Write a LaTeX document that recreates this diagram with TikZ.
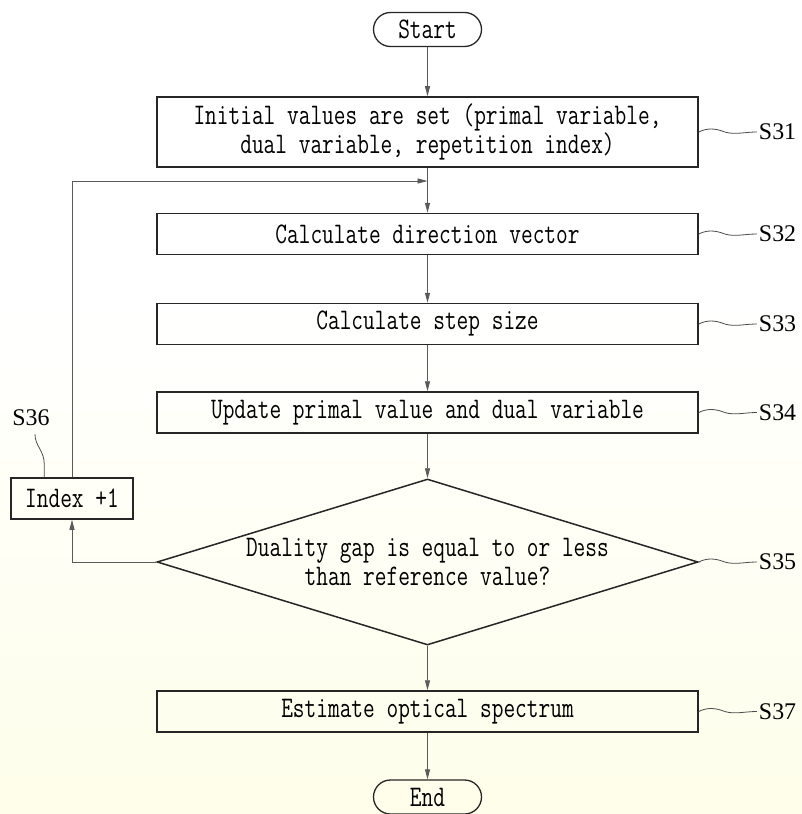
\documentclass[tikz,border=0pt]{standalone}
\usepackage{fontspec}
\usetikzlibrary{shapes.geometric,arrows.meta,calc}
\newfontfamily\boxfont[FakeStretch=0.76]{Latin Modern Mono}
\newfontfamily\labfont{Liberation Serif}
\definecolor{bgyellow}{RGB}{254,254,234}
\definecolor{edgegray}{RGB}{90,90,90}
\tikzset{
  stepbox/.style={draw=black!85, line width=1.5bp, minimum width=541bp, minimum height=41bp,
    inner sep=0pt, align=center, font=\boxfont\fontsize{30}{28.5}\selectfont},
  termbox/.style={stepbox, minimum width=108bp, minimum height=34bp, rounded corners=17bp, line width=1.3bp},
  decision/.style={stepbox, diamond, aspect=3.3, minimum width=541bp, minimum height=166bp},
  steplabel/.style={font=\labfont\fontsize{24}{24}\selectfont, inner sep=0pt},
  flow/.style={draw=edgegray, line width=0.9bp, -{Triangle[length=10bp,width=5bp]}},
  leader/.style={draw=black!70, line width=0.8bp},
}
\begin{document}
\begin{tikzpicture}[x=1bp,y=-1bp]
  \useasboundingbox (0,0) rectangle (802,814);
  \fill[white] (0,0) rectangle (802,814);
  \shade[top color=white, bottom color=bgyellow] (0,300) rectangle (802,814);

  % flow chart
  \node[termbox] (start) at (427.5,29.5) {Start};
  \node[stepbox, minimum height=70bp] (s31) at (427.5,132)
    {Initial values are set (primal variable,\\dual variable, repetition index)};
  \node[stepbox] (s32) at (427.5,234) {Calculate direction vector};
  \node[stepbox] (s33) at (427.5,324) {Calculate step size};
  \node[stepbox] (s34) at (427.5,412.5) {Update primal value and dual variable};
  \node[decision] (s35) at (427.5,562) {Duality gap is equal to or less\\than reference value?};
  \node[stepbox, minimum width=122bp] (s36) at (72,498.5) {Index +1};
  \node[stepbox] (s37) at (427.5,711.5) {Estimate optical spectrum};
  \node[termbox] (stop) at (427.5,797) {End};
  \coordinate (join) at (427.5,181);

  \begin{scope}[flow]
    \draw (start) -- (s31);
    \draw (s31) -- (s32);
    \draw (s32) -- (s33);
    \draw (s33) -- (s34);
    \draw (s34) -- (s35);
    \draw (s35) -- (s37);
    \draw (s37) -- (stop);
    \draw (s35.west) -| (s36);
    \draw (s36) |- (join);
  \end{scope}

  % step labels
  \foreach \n/\t in {s31/S31,s32/S32,s33/S33,s34/S34,s35/S35,s37/S37} {
    \node[steplabel, anchor=west] (l\n) at ($(\n.east)+(60,0)$) {\t};
    \draw[leader, shorten >=2bp] (\n.east)
      .. controls ($(\n.east)+(8,-4)$) and ($(\n.east)+(16,-4)$) .. ($(\n.east)+(26,0)$)
      .. controls ($(\n.east)+(36,3)$) and ($(\n.east)+(46,0)$) .. (l\n.west);
  }
  \node[steplabel] (ls36) at (31,418) {S36};
  \draw[leader] ($(s36.north west)+(34,0)$) -- ($(s36.north west)+(34,-13)$)
    .. controls ($(s36.north west)+(34,-27)$) and ($(ls36.south)+(4,20)$) .. ($(ls36.south)+(4,8)$);
\end{tikzpicture}
\end{document}
